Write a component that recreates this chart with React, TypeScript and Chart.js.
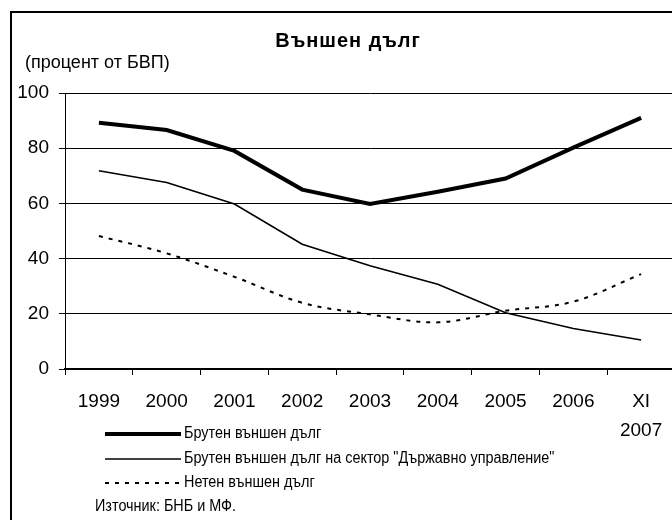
import React, { useEffect, useRef } from "react";
import { Chart, registerables } from "chart.js";

Chart.register(...registerables);

// ---- data ----
const categories: (string | string[])[] = ["1999", "2000", "2001", "2002", "2003", "2004", "2005", "2006", ["XI", "2007"]];
const grossDebt = [89.2, 86.6, 79, 65, 59.8, 64.2, 69, 80.2, 91];
const govDebt = [71.8, 67.6, 59.8, 45.2, 37.4, 30.7, 20.4, 14.7, 10.5];
const netDebt = [48.2, 41.9, 33.4, 24, 19.8, 16.9, 21.1, 24.4, 34.4];
const seriesNames = [
  "Брутен външен дълг",
  "Брутен външен дълг на сектор \"Държавно управление\"",
  "Нетен външен дълг",
];
const yMin = 0;
const yMax = 100;
const yStep = 20;
const titleText = "Външен дълг";
const yLabelText = "(процент от БВП)";
const sourceText = "Източник: БНБ и МФ.";

const FONT = '"Liberation Sans", Arial, sans-serif';

function narrowText(ctx: CanvasRenderingContext2D, text: string, x: number, y: number, sx: number) {
  ctx.save();
  ctx.translate(x, y);
  ctx.scale(sx, 1);
  ctx.fillText(text, 0, 0);
  ctx.restore();
}

const decorPlugin = {
  id: "decor",
  afterDraw(chart: any) {
    const ctx = chart.ctx as CanvasRenderingContext2D;
    ctx.save();
    // outer frame
    ctx.strokeStyle = "#000";
    ctx.lineWidth = 2;
    ctx.strokeRect(11, 12, 760, 600);
    ctx.fillStyle = "#000";
    // title
    ctx.font = "bold 20px " + FONT;
    (ctx as any).letterSpacing = "1px";
    ctx.textAlign = "center";
    ctx.textBaseline = "middle";
    ctx.fillText(titleText, 348, 41);
    (ctx as any).letterSpacing = "0px";
    // y label
    ctx.font = "18px " + FONT;
    ctx.textAlign = "left";
    ctx.fillText(yLabelText, 25, 63);
    // legend
    const rows = [434, 459, 483];
    chart.data.datasets.forEach((ds: any, i: number) => {
      const y = rows[i];
      ctx.beginPath();
      ctx.lineWidth = ds.borderWidth;
      ctx.strokeStyle = ds.borderColor;
      ctx.setLineDash(ds.borderDash || []);
      ctx.moveTo(105, y);
      ctx.lineTo(181, y);
      ctx.stroke();
      ctx.setLineDash([]);
      ctx.font = "16px " + FONT;
      ctx.fillStyle = "#000";
      ctx.textAlign = "left";
      narrowText(ctx, ds.label, 184, y, 0.9);
    });
    ctx.font = "16px " + FONT;
    narrowText(ctx, sourceText, 95, 507, 0.9);
    ctx.restore();
  },
};

export default function App() {
  const ref = useRef<HTMLCanvasElement>(null);
  useEffect(() => {
    if (!ref.current) return;
    const chart = new Chart(ref.current, {
      type: "line",
      data: {
        labels: categories,
        datasets: [
          {
            label: seriesNames[0],
            data: grossDebt,
            borderColor: "#000",
            borderWidth: 4,
            pointRadius: 0,
            tension: 0,
            fill: false,
          },
          {
            label: seriesNames[1],
            data: govDebt,
            borderColor: "#000",
            borderWidth: 1.6,
            pointRadius: 0,
            tension: 0,
            fill: false,
          },
          {
            label: seriesNames[2],
            data: netDebt,
            borderColor: "#000",
            borderWidth: 2,
            borderDash: [4, 6],
            pointRadius: 0,
            tension: 0.35,
            fill: false,
          },
        ],
      },
      plugins: [decorPlugin],
      options: {
        responsive: false,
        animation: false,
        layout: { padding: { left: 0, top: 93, right: 25, bottom: 0 } },
        plugins: {
          legend: { display: false },
          title: { display: false },
          tooltip: { enabled: false },
        },
        scales: {
          x: {
            type: "category",
            offset: true,
            afterFit(scale: any) {
              scale.height = 151;
            },
            grid: {
              offset: true,
              drawOnChartArea: false,
              drawTicks: true,
              tickLength: 6,
              color: "#000",
            },
            border: { display: true, color: "#000", width: 2 },
            ticks: {
              color: "#000",
              padding: 12,
              maxRotation: 0,
              autoSkip: false,
              font: { family: FONT, size: 19, lineHeight: "29px" as any },
            },
          },
          y: {
            min: yMin,
            max: yMax,
            afterFit(scale: any) {
              scale.width = 65;
            },
            grid: {
              color: "#000",
              lineWidth: 1,
              drawTicks: true,
              tickLength: 6,
            },
            border: { display: true, color: "#000", width: 1 },
            ticks: {
              stepSize: yStep,
              color: "#000",
              padding: 10,
              font: { family: FONT, size: 19 },
            },
          },
        },
      },
    });
    return () => chart.destroy();
  }, []);
  return (
    <div style={{ position: "fixed", left: 0, top: 0, width: 672, height: 520, overflow: "hidden", background: "#fff" }}>
      <canvas ref={ref} width={700} height={520} style={{ display: "block" }} />
    </div>
  );
}
